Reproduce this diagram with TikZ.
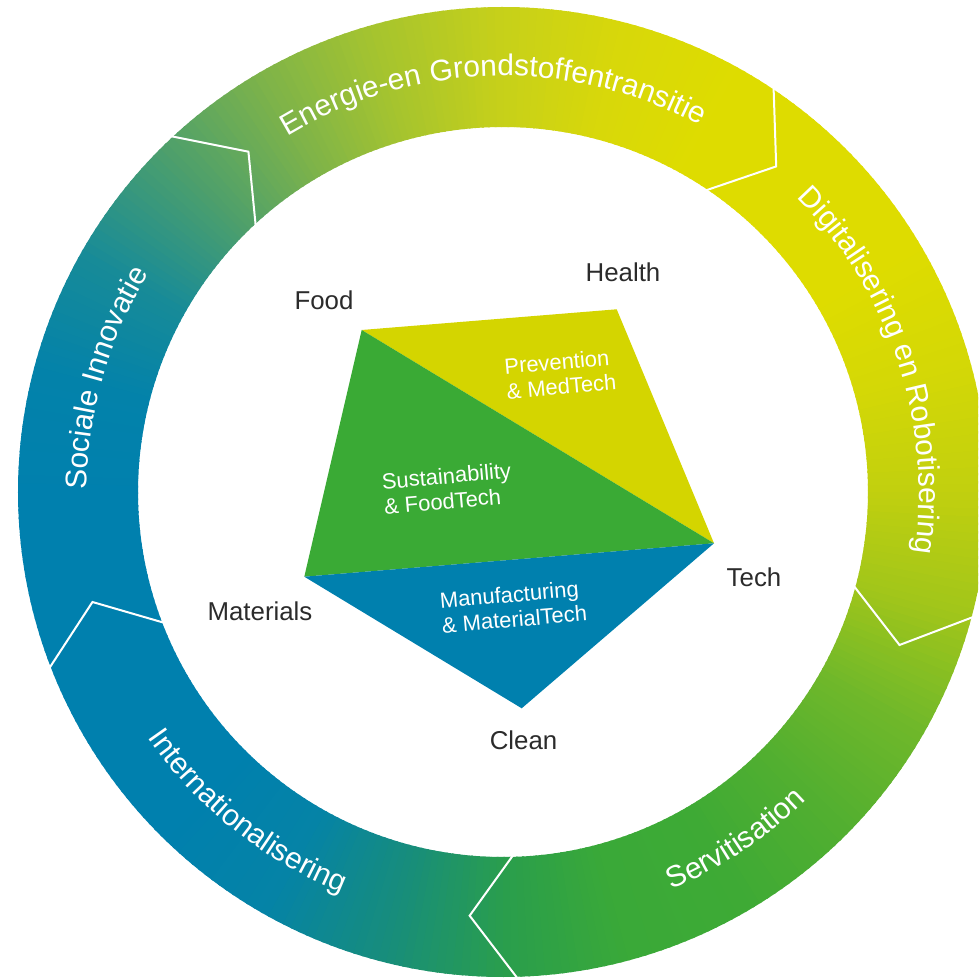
\documentclass[tikz,border=0pt]{standalone}
\usepackage{fontspec}
\setmainfont{Liberation Sans}
\usetikzlibrary{decorations.text}
% ring colours, every 15 degrees from -180 to 180
\definecolor{rc0}{HTML}{0080AE}
\definecolor{rc1}{HTML}{0080AE}
\definecolor{rc2}{HTML}{0080AE}
\definecolor{rc3}{HTML}{0080AE}
\definecolor{rc4}{HTML}{0583A6}
\definecolor{rc5}{HTML}{178D7C}
\definecolor{rc6}{HTML}{2A9E4C}
\definecolor{rc7}{HTML}{3AA938}
\definecolor{rc8}{HTML}{3EAA35}
\definecolor{rc9}{HTML}{52AF30}
\definecolor{rc10}{HTML}{70B82A}
\definecolor{rc11}{HTML}{A2C61A}
\definecolor{rc12}{HTML}{C2D00E}
\definecolor{rc13}{HTML}{D4D806}
\definecolor{rc14}{HTML}{DEDC00}
\definecolor{rc15}{HTML}{DEDC00}
\definecolor{rc16}{HTML}{DEDC00}
\definecolor{rc17}{HTML}{D8D80A}
\definecolor{rc18}{HTML}{C6D01A}
\definecolor{rc19}{HTML}{A6C42E}
\definecolor{rc20}{HTML}{7DB34A}
\definecolor{rc21}{HTML}{4A9E6E}
\definecolor{rc22}{HTML}{178B98}
\definecolor{rc23}{HTML}{0382AA}
\definecolor{rc24}{HTML}{0080AE}
\definecolor{pyellow}{HTML}{D4D500}
\definecolor{pgreen}{HTML}{3AAA35}
\definecolor{pblue}{HTML}{0080AE}
\definecolor{labelgray}{HTML}{2B2B2B}
\newcommand{\ringfont}{\fontsize{17}{17}\selectfont}

\begin{document}
\begin{tikzpicture}[x=0.2mm,y=0.2mm,
	lab/.style={text=labelgray,font=\fontsize{14.7}{17}\selectfont},
	inlab/.style={text=white,align=left,rotate=5,font=\fontsize{12.5}{14.2}\selectfont},
	chev/.style={draw=white,line width=0.4mm},
	ringtext/.style={decorate,decoration={text along path,text align=center,text color=white,text={|\ringfont|#1}}}]
		\clip (-503,-487) rectangle (475,492);
		% ring
		\foreach \k in {0,...,23}{
			\pgfmathtruncatemacro\kk{\k+1}
			\foreach \i in {0,...,14}{
				\pgfmathsetmacro\t{-180+15*\k+\i}
				\pgfmathsetmacro\u{\t+1.3}
				\pgfmathtruncatemacro\p{round(100*\i/15)}
				\fill[rc\kk!\p!rc\k] (\t:365)--(\t:485) arc[start angle=\t,end angle=\u,radius=485]--(\u:365) arc[start angle=\u,end angle=\t,radius=365]--cycle;
			}
		}
		% arrow heads between the parts
		\foreach \a in {133.3,56.5,-14.6,-88,201.5}
			\draw[chev] (\a:490)--(\a-6.5:425)--(\a:360);
		\path[ringtext=Energie-en Grondstoffentransitie] (150:416) arc[start angle=150,end angle=33,radius=416];
		\path[ringtext=Digitalisering en Robotisering] (75:416) arc[start angle=75,end angle=-38.4,radius=416];
		\path[ringtext=Sociale Innovatie] (220:416) arc[start angle=220,end angle=108,radius=416];
		\path[ringtext=Servitisation] (-110:432) arc[start angle=-110,end angle=-2.4,radius=432];
		\path[ringtext=Internationalisering] (180:432) arc[start angle=180,end angle=282.8,radius=432];
		% pentagon
		\coordinate (food) at (-141.3,162);
		\coordinate (health) at (113.7,182.7);
		\coordinate (tech) at (211,-51.3);
		\coordinate (clean) at (18.7,-216.3);
		\coordinate (materials) at (-198.7,-84.7);
		\fill[pyellow] (food)--(health)--(tech)--cycle;
		\fill[pgreen] (food)--(tech)--(materials)--cycle;
		\fill[pblue] (materials)--(tech)--(clean)--cycle;
		\node[inlab] (prev) at (57.3,118) {Prevention\\\& MedTech};
		\node[inlab] (sust) at (-55.5,3.7) {Sustainability\\\& FoodTech};
		\node[inlab] (manu) at (10.3,-114.7) {Manufacturing\\\& MaterialTech};
		\node[lab] (foodlab) at (-179,192) {Food};
		\node[lab] (healthlab) at (120,220) {Health};
		\node[lab] (techlab) at (251,-85) {Tech};
		\node[lab] (cleanlab) at (20.5,-248) {Clean};
		\node[lab] (matlab) at (-243,-119) {Materials};
\end{tikzpicture}
\end{document}
